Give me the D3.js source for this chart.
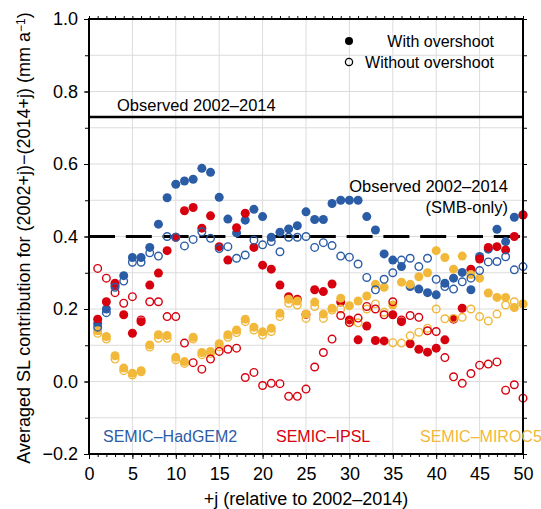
<!DOCTYPE html>
<html>
<head>
<meta charset="utf-8">
<script src="https://cdn.jsdelivr.net/npm/d3@7"></script>
<style>
  body { margin: 0; background: #fff; }
  text { font-family: "Liberation Sans", Arial, Helvetica, sans-serif; }
</style>
</head>
<body>
<svg id="chart"></svg>
<script>
var svgWidth = 541,
  svgHeight = 509;

var plotLeft = 89,
  plotRight = 523,
  plotTop = 19,
  plotBottom = 454;

// j = years after the 2002-2014 window
var jValues = [1, 2, 3, 4, 5, 6, 7, 8, 9, 10, 11, 12, 13, 14, 15, 16, 17, 18, 19, 20,
  21, 22, 23, 24, 25, 26, 27, 28, 29, 30, 31, 32, 33, 34, 35, 36, 37, 38, 39, 40,
  41, 42, 43, 44, 45, 46, 47, 48, 49, 50];

var hadgemWith = [0.16, 0.20, 0.265, 0.292, 0.342, 0.342, 0.37, 0.434, 0.507, 0.544,
  0.553, 0.558, 0.588, 0.577, 0.508, 0.448, 0.41, 0.445, 0.475, 0.455,
  0.398, 0.412, 0.421, 0.43, 0.468, 0.447, 0.447, 0.491, 0.50, 0.50,
  0.50, 0.455, 0.418, 0.352, 0.335, 0.317, 0.262, 0.255, 0.245, 0.239,
  0.271, 0.285, 0.301, 0.253, 0.345, 0.365, 0.42, 0.386, 0.453, 0.46];
var hadgemWithout = [0.15, 0.19, 0.26, 0.277, 0.329, 0.329, 0.355, 0.346, 0.40, 0.398,
  0.374, 0.392, 0.413, 0.395, 0.367, 0.372, 0.34, 0.349, 0.39, 0.377,
  0.386, 0.358, 0.398, 0.398, 0.40, 0.37, 0.383, 0.375, 0.346, 0.343,
  0.324, 0.287, 0.253, 0.282, 0.30, 0.335, 0.34, 0.317, 0.34, 0.282,
  0.262, 0.255, 0.275, 0.285, 0.306, 0.33, 0.331, 0.344, 0.308, 0.317];

var ipslWith = [0.172, 0.22, 0.271, 0.184, 0.133, 0.165, 0.266, 0.299, 0.361, 0.398,
  0.471, 0.48, 0.423, 0.457, 0.372, 0.335, 0.424, 0.464, 0.37, 0.321,
  0.31, 0.266, 0.234, 0.227, 0.185, 0.253, 0.248, 0.269, 0.219, 0.17,
  0.115, 0.153, 0.113, 0.112, 0.184, 0.165, 0.104, 0.089, 0.081, 0.092,
  0.115, 0.172, 0.202, 0.31, 0.338, 0.37, 0.372, 0.363, 0.40, 0.459];
var ipslWithout = [0.312, 0.285, 0.245, 0.216, 0.234, 0.17, 0.22, 0.22, 0.179, 0.179,
  0.106, 0.052, 0.034, 0.062, 0.083, 0.089, 0.092, 0.011, 0.025, -0.011,
  -0.005, -0.006, -0.041, -0.041, -0.021, 0.04, 0.08, 0.117, 0.182, 0.163,
  0.175, 0.207, 0.20, 0.184, 0.22, 0.17, 0.182, 0.177, 0.14, 0.138,
  0.066, 0.013, -0.005, 0.022, 0.045, 0.048, 0.054, -0.024, -0.009, -0.046];

var mirocWith = [0.14, 0.124, 0.071, 0.037, 0.023, 0.03, 0.101, 0.129, 0.127, 0.067,
  0.055, 0.122, 0.08, 0.083, 0.104, 0.129, 0.142, 0.172, 0.15, 0.137,
  0.147, 0.188, 0.227, 0.222, 0.186, 0.219, 0.186, 0.202, 0.23, 0.209,
  0.222, 0.236, 0.268, 0.26, 0.211, 0.274, 0.268, 0.289, 0.30, 0.361,
  0.342, 0.31, 0.346, 0.295, 0.285, 0.244, 0.232, 0.232, 0.204, 0.214];
var mirocWithout = [0.133, 0.117, 0.062, 0.03, 0.018, 0.027, 0.095, 0.119, 0.119, 0.06,
  0.05, 0.117, 0.074, 0.077, 0.096, 0.122, 0.135, 0.165, 0.142, 0.128,
  0.138, 0.179, 0.216, 0.211, 0.174, 0.207, 0.174, 0.197, 0.20, 0.162,
  0.162, 0.20, 0.214, 0.191, 0.107, 0.106, 0.126, 0.136, 0.147, 0.20,
  0.173, 0.174, 0.177, 0.20, 0.179, 0.167, 0.186, 0.211, 0.22, 0.214];

var yTicks = [-0.2, 0.0, 0.2, 0.4, 0.6, 0.8, 1.0];
var yMinorTicks = [-0.2, -0.1, 0.0, 0.1, 0.2, 0.3, 0.4, 0.5, 0.6, 0.7, 0.8, 0.9, 1.0];
var xTicks = [0, 5, 10, 15, 20, 25, 30, 35, 40, 45, 50];

var observedTotal = 0.73,
  observedSmb = 0.40;

var blue = "#2b5ca6",
  red = "#d7000f",
  yellow = "#f1b83a";

var svg = d3.select("#chart").attr("width", svgWidth).attr("height", svgHeight);

var xScale = d3.scaleLinear().domain([0, 50]).range([plotLeft, plotRight]),
  yScale = d3.scaleLinear().domain([-0.2, 1.0]).range([plotBottom, plotTop]);

var xMinorTicks = d3.range(0, 51);

// grid
var grid = svg.append("g").attr("stroke", "#dcdcdc").attr("stroke-width", 1);
grid.selectAll(".vgrid")
  .data(xTicks.slice(1, -1))
  .enter()
  .append("line")
  .attr("x1", (d) => xScale(d))
  .attr("x2", (d) => xScale(d))
  .attr("y1", plotTop)
  .attr("y2", plotBottom);
grid.selectAll(".hgrid")
  .data(yMinorTicks.slice(1, -1))
  .enter()
  .append("line")
  .attr("y1", (d) => yScale(d))
  .attr("y2", (d) => yScale(d))
  .attr("x1", plotLeft)
  .attr("x2", plotRight);

// axes, ticks point outwards on all four sides
function styleAxis(g) {
  g.selectAll(".domain").remove();
  g.selectAll(".tick line").attr("stroke", "#000").attr("stroke-width", 1);
  g.selectAll(".tick text").attr("fill", "#000").style("font-size", "18px");
}

svg.append("g")
  .attr("transform", "translate(" + plotLeft + ",0)")
  .call(d3.axisLeft(yScale).tickValues(yTicks).tickSize(5).tickPadding(6).tickFormat(d3.format(".1f")))
  .call(styleAxis);
svg.append("g")
  .attr("transform", "translate(" + plotLeft + ",0)")
  .call(d3.axisLeft(yScale).tickValues(yMinorTicks).tickSize(4).tickFormat(""))
  .call(styleAxis);
svg.append("g")
  .attr("transform", "translate(" + plotRight + ",0)")
  .call(d3.axisRight(yScale).tickValues(yMinorTicks).tickSize(4).tickFormat(""))
  .call(styleAxis);

svg.append("g")
  .attr("transform", "translate(0," + plotBottom + ")")
  .call(d3.axisBottom(xScale).tickValues(xTicks).tickSize(5).tickPadding(8).tickFormat(d3.format("d")))
  .call(styleAxis);
svg.append("g")
  .attr("transform", "translate(0," + plotBottom + ")")
  .call(d3.axisBottom(xScale).tickValues(xMinorTicks).tickSize(3).tickFormat(""))
  .call(styleAxis);
svg.append("g")
  .attr("transform", "translate(0," + plotTop + ")")
  .call(d3.axisTop(xScale).tickValues(xMinorTicks).tickSize(3).tickFormat(""))
  .call(styleAxis);

// observed reference lines
svg.append("line")
  .attr("x1", plotLeft)
  .attr("x2", plotRight)
  .attr("y1", yScale(observedTotal))
  .attr("y2", yScale(observedTotal))
  .attr("stroke", "#000")
  .attr("stroke-width", 2.5);
svg.append("line")
  .attr("x1", plotLeft)
  .attr("x2", plotRight)
  .attr("y1", yScale(observedSmb))
  .attr("y2", yScale(observedSmb))
  .attr("stroke", "#000")
  .attr("stroke-width", 3)
  .attr("stroke-dasharray", "26 10.8");

// points
var series = [
  { values: hadgemWith, color: blue, filled: true },
  { values: ipslWith, color: red, filled: true },
  { values: mirocWith, color: yellow, filled: true },
  { values: mirocWithout, color: yellow, filled: false },
  { values: ipslWithout, color: red, filled: false },
  { values: hadgemWithout, color: blue, filled: false }
];

series.forEach(function (s) {
  var pts = svg.append("g")
    .selectAll("circle")
    .data(jValues.map((j, i) => ({ x: j, y: s.values[i] })))
    .enter()
    .append("circle")
    .attr("cx", (d) => xScale(d.x))
    .attr("cy", (d) => yScale(d.y));
  if (s.filled) {
    pts.attr("r", 4.5).attr("fill", s.color);
  } else {
    pts.attr("r", 3.8).attr("fill", "none").attr("stroke", s.color).attr("stroke-width", 1.4);
  }
});

// frame
svg.append("rect")
  .attr("x", plotLeft)
  .attr("y", plotTop)
  .attr("width", plotRight - plotLeft)
  .attr("height", plotBottom - plotTop)
  .attr("fill", "none")
  .attr("stroke", "#000")
  .attr("stroke-width", 2);

// labels inside the plot
svg.append("text")
  .attr("x", 117)
  .attr("y", 111)
  .style("font-size", "16.5px")
  .text("Observed 2002\u20132014");
svg.append("text")
  .attr("x", 508)
  .attr("y", 192)
  .attr("text-anchor", "end")
  .style("font-size", "16.5px")
  .text("Observed 2002\u20132014");
svg.append("text")
  .attr("x", 508)
  .attr("y", 213)
  .attr("text-anchor", "end")
  .style("font-size", "16.5px")
  .text("(SMB-only)");

// legend
svg.append("circle").attr("cx", 349).attr("cy", 41).attr("r", 4).attr("fill", "#000");
svg.append("circle").attr("cx", 349).attr("cy", 62).attr("r", 3.6)
  .attr("fill", "none").attr("stroke", "#000").attr("stroke-width", 1.3);
svg.append("text").attr("x", 494).attr("y", 46.5).attr("text-anchor", "end")
  .style("font-size", "16px").text("With overshoot");
svg.append("text").attr("x", 494).attr("y", 68).attr("text-anchor", "end")
  .style("font-size", "16px").text("Without overshoot");

// model names
var modelLabels = [
  { name: "SEMIC\u2013HadGEM2", x: 103, color: blue },
  { name: "SEMIC\u2013IPSL", x: 276, color: red },
  { name: "SEMIC\u2013MIROC5", x: 420, color: yellow }
];
svg.selectAll(".model")
  .data(modelLabels)
  .enter()
  .append("text")
  .attr("x", (d) => d.x)
  .attr("y", 442)
  .attr("fill", (d) => d.color)
  .style("font-size", "16px")
  .text((d) => d.name);

// axis titles
svg.append("text")
  .attr("x", (plotLeft + plotRight) / 2)
  .attr("y", 505)
  .attr("text-anchor", "middle")
  .style("font-size", "18px")
  .text("+j (relative to 2002\u20132014)");

var yTitle = svg.append("text")
  .attr("transform", "translate(30,238) rotate(-90)")
  .attr("text-anchor", "middle")
  .style("font-size", "18px");
yTitle.append("tspan").text("Averaged SL contribution for (2002+j)\u2212(2014+j) (mm a");
yTitle.append("tspan").attr("dy", "-0.45em").style("font-size", "12px").text("\u22121");
yTitle.append("tspan").attr("dy", "0.3em").text(")");
</script>
</body>
</html>
